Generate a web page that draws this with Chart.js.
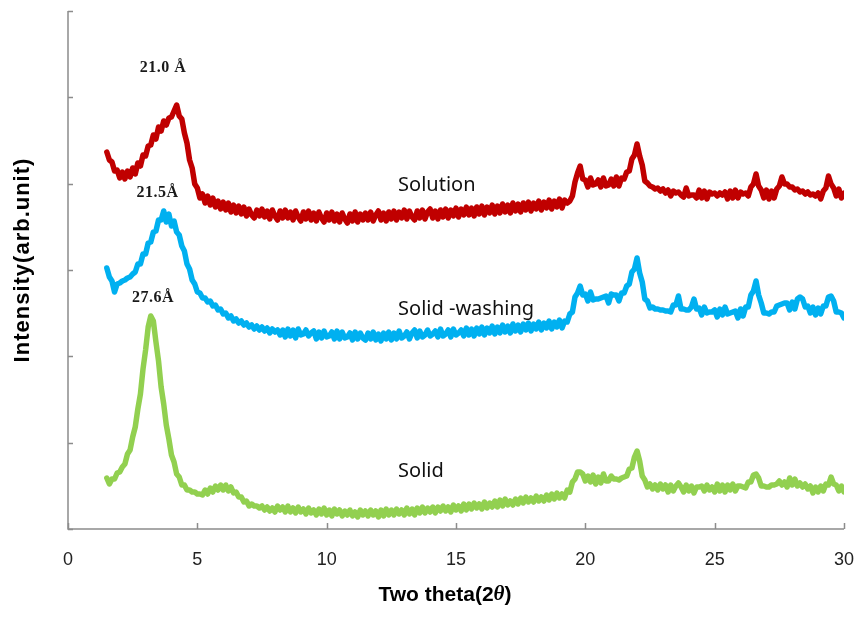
<!DOCTYPE html>
<html>
<head>
<meta charset="utf-8">
<script src="https://cdn.jsdelivr.net/npm/chart.js@4.4.1/dist/chart.umd.min.js"></script>
<style>
  html, body { margin: 0; padding: 0; background: #ffffff; }
  #wrap { width: 856px; height: 619px; }
</style>
</head>
<body>
<div id="wrap"><canvas id="xrd" width="856" height="619"></canvas></div>
<script>
// 2θ sampling grid (degrees)
const twoTheta = [
  1.5,1.6,1.7,1.8,1.9,2.0,2.1,2.2,2.3,2.4,
  2.5,2.6,2.7,2.8,2.9,3.0,3.1,3.2,3.3,3.4,
  3.5,3.6,3.7,3.8,3.9,4.0,4.1,4.2,4.3,4.4,
  4.5,4.6,4.7,4.8,4.9,5.0,5.1,5.2,5.3,5.4,
  5.5,5.6,5.7,5.8,5.9,6.0,6.1,6.2,6.3,6.4,
  6.5,6.6,6.7,6.8,6.9,7.0,7.1,7.2,7.3,7.4,
  7.5,7.6,7.7,7.8,7.9,8.0,8.1,8.2,8.3,8.4,
  8.5,8.6,8.7,8.8,8.9,9.0,9.1,9.2,9.3,9.4,
  9.5,9.6,9.7,9.8,9.9,10.0,10.1,10.2,10.3,10.4,
  10.5,10.6,10.7,10.8,10.9,11.0,11.1,11.2,11.3,11.4,
  11.5,11.6,11.7,11.8,11.9,12.0,12.1,12.2,12.3,12.4,
  12.5,12.6,12.7,12.8,12.9,13.0,13.1,13.2,13.3,13.4,
  13.5,13.6,13.7,13.8,13.9,14.0,14.1,14.2,14.3,14.4,
  14.5,14.6,14.7,14.8,14.9,15.0,15.1,15.2,15.3,15.4,
  15.5,15.6,15.7,15.8,15.9,16.0,16.1,16.2,16.3,16.4,
  16.5,16.6,16.7,16.8,16.9,17.0,17.1,17.2,17.3,17.4,
  17.5,17.6,17.7,17.8,17.9,18.0,18.1,18.2,18.3,18.4,
  18.5,18.6,18.7,18.8,18.9,19.0,19.1,19.2,19.3,19.4,
  19.5,19.6,19.7,19.8,19.9,20.0,20.1,20.2,20.3,20.4,
  20.5,20.6,20.7,20.8,20.9,21.0,21.1,21.2,21.3,21.4,
  21.5,21.6,21.7,21.8,21.9,22.0,22.1,22.2,22.3,22.4,
  22.5,22.6,22.7,22.8,22.9,23.0,23.1,23.2,23.3,23.4,
  23.5,23.6,23.7,23.8,23.9,24.0,24.1,24.2,24.3,24.4,
  24.5,24.6,24.7,24.8,24.9,25.0,25.1,25.2,25.3,25.4,
  25.5,25.6,25.7,25.8,25.9,26.0,26.1,26.2,26.3,26.4,
  26.5,26.6,26.7,26.8,26.9,27.0,27.1,27.2,27.3,27.4,
  27.5,27.6,27.7,27.8,27.9,28.0,28.1,28.2,28.3,28.4,
  28.5,28.6,28.7,28.8,28.9,29.0,29.1,29.2,29.3,29.4,
  29.5,29.6,29.7,29.8,29.9,30.0
];

// Intensities (arb. unit, stacked offsets included)
const solution = [
  377,369,367,358,359,351,357,350,358,352,
  361,355,366,363,374,373,383,384,394,390,
  402,398,408,404,411,412,418,424,413,410,
  396,386,369,361,345,341,331,335,326,333,
  324,331,322,328,320,327,319,326,317,324,
  316,323,315,322,313,320,314,311,319,313,
  320,312,318,310,319,313,309,318,311,319,
  311,317,309,318,312,308,317,310,318,309,
  316,308,317,311,307,316,309,317,308,315,
  307,316,310,306,315,308,317,307,315,309,
  316,309,317,308,314,318,309,316,308,317,
  310,318,309,317,311,319,310,318,312,309,
  318,311,319,310,317,320,311,318,310,319,
  312,320,311,319,313,321,312,320,314,322,
  314,321,313,322,315,323,314,322,316,324,
  315,323,316,325,317,324,316,326,318,325,
  317,326,319,327,318,326,320,328,319,327,
  321,329,320,328,322,330,321,329,326,328,
  333,347,356,363,350,349,342,351,344,345,
  349,342,351,343,344,350,343,352,343,351,
  350,357,358,370,374,385,373,364,348,346,
  343,342,340,341,338,340,336,339,333,338,
  336,337,334,332,341,333,334,334,331,339,
  331,338,330,337,335,336,333,336,334,337,
  330,338,331,339,331,337,335,336,333,342,
  345,355,343,339,331,339,330,338,331,340,
  343,352,345,345,342,342,339,340,337,338,
  335,337,334,335,333,336,330,338,341,353,
  345,341,333,340,331,336
];

const solidWashing = [
  261,252,248,237,245,246,248,249,251,252,
  255,257,265,265,275,275,286,287,297,298,
  309,309,318,307,315,303,308,297,294,283,
  278,265,260,249,245,237,236,231,231,227,
  228,223,224,219,220,215,216,211,213,208,
  210,206,208,204,206,202,204,200,203,199,
  202,198,201,196,200,197,199,194,199,192,
  200,193,199,191,200,194,195,199,193,196,
  198,190,197,191,198,192,193,197,190,198,
  190,197,191,192,196,189,197,190,196,191,
  189,196,190,197,189,195,188,196,190,197,
  189,196,190,198,191,193,197,190,196,199,
  191,198,192,194,199,193,195,198,192,200,
  193,195,199,192,200,194,196,199,193,201,
  194,200,193,201,195,202,194,201,196,203,
  195,202,196,204,197,203,196,205,198,204,
  197,205,199,206,198,205,200,207,199,206,
  201,208,200,207,202,209,201,208,207,215,
  217,232,236,243,234,235,228,237,229,230,
  230,231,232,233,226,235,234,234,228,236,
  236,243,245,257,260,271,256,247,230,228,
  221,222,220,220,219,219,218,218,217,224,
  224,233,220,220,219,219,222,230,220,221,
  214,222,216,217,217,219,212,220,214,222,
  215,216,217,218,211,220,213,222,222,234,
  238,248,234,226,216,216,215,217,217,223,
  224,225,226,226,219,227,220,230,232,230,
  222,223,216,222,214,221,215,223,223,232,
  233,228,217,217,216,211
];

const solid = [
  51,45,50,50,56,57,62,65,75,79,
  92,102,120,135,160,179,202,213,208,187,
  168,142,125,104,90,74,67,55,52,44,
  44,39,39,37,37,35,35,34,39,35,
  41,37,43,39,44,39,44,38,42,36,
  37,32,32,27,28,23,25,23,23,21,
  23,19,22,18,21,17,23,19,22,17,
  23,17,21,16,22,17,20,15,21,16,
  19,14,20,15,21,14,19,13,20,15,
  19,13,18,14,19,13,17,12,19,14,
  18,13,19,14,18,12,19,13,20,14,
  19,14,20,15,19,14,21,15,20,14,
  21,16,22,16,21,17,22,16,22,18,
  23,18,22,17,24,19,23,18,25,19,
  25,20,26,21,25,20,27,21,26,22,
  28,22,29,23,30,24,28,24,30,25,
  31,26,32,27,31,27,33,28,32,28,
  34,29,35,30,36,31,35,31,39,37,
  47,50,57,57,55,48,53,47,54,45,
  52,46,55,48,48,53,50,50,49,51,
  52,53,60,61,72,78,68,53,49,42,
  45,40,44,39,45,40,44,37,44,38,
  43,46,42,37,44,38,43,36,42,42,
  43,38,44,39,42,37,45,38,44,37,
  44,39,45,38,43,43,42,41,47,47,
  54,55,51,43,43,42,42,44,44,45,
  48,44,47,42,51,44,50,43,46,42,
  45,40,43,36,42,37,43,38,45,44,
  52,45,44,38,43,37
];

const seriesNames = ['Solution', 'Solid -washing', 'Solid'];
const xTicks = [0, 5, 10, 15, 20, 25, 30];
const yTicks = [0, 86.33, 172.67, 259, 345.33, 431.67, 518];

const toPoints = vals => vals.map((v, i) => ({ x: twoTheta[i], y: v }));

// Peak d-spacing notes and series names, placed in data coordinates
const notes = [
  { text: '21.0 Å', x: 3.67, y: 461, kind: 'peak' },
  { text: '21.5Å',  x: 3.46, y: 336, kind: 'peak' },
  { text: '27.6Å',  x: 3.29, y: 231, kind: 'peak' },
  { text: seriesNames[0], x: 12.76, y: 344, kind: 'name' },
  { text: seriesNames[1], x: 12.76, y: 220, kind: 'name' },
  { text: seriesNames[2], x: 12.76, y: 58,  kind: 'name' }
];

const AXIS_COLOR = '#8c8c8c';

const framePlugin = {
  id: 'frame',
  afterDatasetsDraw(chart) {
    const { ctx, chartArea: a, scales: { x, y } } = chart;
    ctx.save();
    // axis lines
    ctx.strokeStyle = AXIS_COLOR;
    ctx.lineWidth = 1.5;
    ctx.beginPath();
    ctx.moveTo(a.left, a.top);
    ctx.lineTo(a.left, a.bottom);
    ctx.lineTo(a.right, a.bottom);
    ctx.stroke();
    // inward tick marks
    ctx.beginPath();
    xTicks.forEach(t => {
      const px = Math.round(x.getPixelForValue(t)) + 0.5;
      ctx.moveTo(px, a.bottom);
      ctx.lineTo(px, a.bottom - 6);
    });
    yTicks.forEach(t => {
      const py = Math.round(y.getPixelForValue(t)) + 0.5;
      ctx.moveTo(a.left, py);
      ctx.lineTo(a.left + 5, py);
    });
    ctx.stroke();

    // annotations
    ctx.textBaseline = 'middle';
    notes.forEach(n => {
      const px = x.getPixelForValue(n.x);
      const py = y.getPixelForValue(n.y);
      if (n.kind === 'peak') {
        ctx.fillStyle = '#1a1a1a';
        ctx.font = 'bold 16px "Liberation Serif", "DejaVu Serif", serif';
        ctx.textAlign = 'center';
        if ('letterSpacing' in ctx) ctx.letterSpacing = '0.5px';
      } else {
        ctx.fillStyle = '#111';
        ctx.font = '20px "Noto Sans", "Open Sans", sans-serif';
        ctx.textAlign = 'left';
        if ('letterSpacing' in ctx) ctx.letterSpacing = '0px';
      }
      ctx.fillText(n.text, px, py);
    });
    if ('letterSpacing' in ctx) ctx.letterSpacing = '0px';

    // axis titles
    ctx.fillStyle = '#000';
    ctx.textBaseline = 'middle';
    // x title with italic theta
    const p1 = 'Two theta(2', p2 = 'θ', p3 = ')';
    const f1 = 'bold 21px "Liberation Sans", Arial, sans-serif';
    const f2 = 'bold italic 21px "Liberation Serif", "DejaVu Serif", serif';
    ctx.font = f1; const w1 = ctx.measureText(p1).width; const w3 = ctx.measureText(p3).width;
    ctx.font = f2; const w2 = ctx.measureText(p2).width;
    const cx = (a.left + a.right) / 2 - 11;
    const sx = cx - (w1 + w2 + w3) / 2;
    const ty = a.bottom + 66;
    ctx.textAlign = 'left';
    ctx.font = f1; ctx.fillText(p1, sx, ty);
    ctx.font = f2; ctx.fillText(p2, sx + w1, ty);
    ctx.font = f1; ctx.fillText(p3, sx + w1 + w2, ty);

    // y title
    ctx.save();
    ctx.translate(23, (a.top + a.bottom) / 2 - 10);
    ctx.rotate(-Math.PI / 2);
    ctx.font = 'bold 22px "Liberation Sans", Arial, sans-serif';
    if ('letterSpacing' in ctx) ctx.letterSpacing = '1px';
    ctx.textAlign = 'center';
    ctx.fillText('Intensity(arb.unit)', 0, 0);
    ctx.restore();

    ctx.restore();
  }
};

const lineStyle = color => ({
  borderColor: color,
  backgroundColor: color,
  borderWidth: 5.5,
  pointRadius: 0,
  tension: 0,
  fill: false,
  borderJoinStyle: 'round',
  borderCapStyle: 'round'
});

new Chart(document.getElementById('xrd'), {
  type: 'line',
  data: {
    datasets: [
      { label: seriesNames[0], data: toPoints(solution), ...lineStyle('#C00000') },
      { label: seriesNames[1], data: toPoints(solidWashing), ...lineStyle('#00B0F0') },
      { label: seriesNames[2], data: toPoints(solid), ...lineStyle('#92D050') }
    ]
  },
  options: {
    responsive: false,
    animation: false,
    devicePixelRatio: 1,
    layout: { padding: { left: 0, right: 12, top: 11, bottom: 0 } },
    plugins: { legend: { display: false }, tooltip: { enabled: false } },
    scales: {
      x: {
        type: 'linear', min: 0, max: 30,
        afterBuildTicks: s => { s.ticks = xTicks.map(v => ({ value: v })); },
        ticks: { color: '#222', font: { family: '"Liberation Sans", Arial, sans-serif', size: 18 }, padding: 20, maxRotation: 0 },
        grid: { display: false, drawTicks: false },
        border: { display: false },
        afterFit: s => { s.height = 90; s.paddingLeft = 0; s.paddingRight = 0; }
      },
      y: {
        type: 'linear', min: 0, max: 518,
        afterBuildTicks: s => { s.ticks = yTicks.map(v => ({ value: v })); },
        ticks: { display: false },
        grid: { display: false, drawTicks: false },
        border: { display: false },
        afterFit: s => { s.width = 68; s.paddingTop = 0; s.paddingBottom = 0; }
      }
    }
  },
  plugins: [framePlugin]
});
</script>
</body>
</html>
